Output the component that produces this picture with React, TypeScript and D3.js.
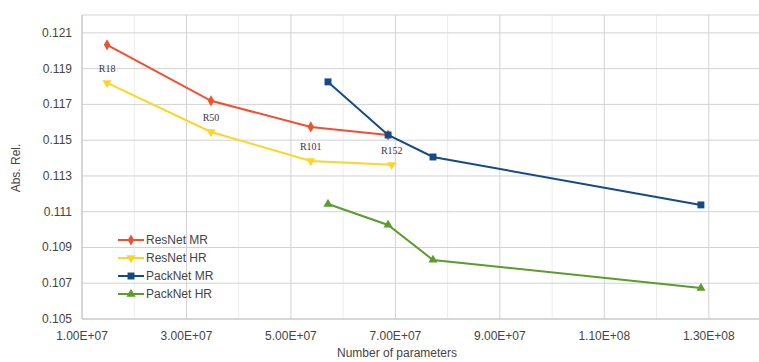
import * as d3 from 'd3';

// valores (parámetros en unidades, Abs. Rel.)
const resnetLabels = ['R18', 'R50', 'R101', 'R152'];
const resnetMrParams = [14.8e6, 34.7e6, 53.8e6, 68.6e6];
const resnetMrAbsRel = [0.12033, 0.1172, 0.11574, 0.11529];
const resnetHrParams = [14.8e6, 34.7e6, 53.8e6, 69.3e6];
const resnetHrAbsRel = [0.1182, 0.11546, 0.11384, 0.11362];
const packnetMrParams = [57.1e6, 68.6e6, 77.2e6, 128.5e6];
const packnetMrAbsRel = [0.11826, 0.11529, 0.11406, 0.11138];
const packnetHrParams = [57.1e6, 68.6e6, 77.2e6, 128.5e6];
const packnetHrAbsRel = [0.11143, 0.11026, 0.1083, 0.10673];

const xTicks = [1e7, 3e7, 5e7, 7e7, 9e7, 1.1e8, 1.3e8];
const xTickLabels = ['1.00E+07', '3.00E+07', '5.00E+07', '7.00E+07', '9.00E+07', '1.10E+08', '1.30E+08'];
const xMinorTicks = [2e7, 4e7, 6e7, 8e7, 1e8, 1.2e8];
const yTicks = [0.105, 0.107, 0.109, 0.111, 0.113, 0.115, 0.117, 0.119, 0.121];

const series = [
  { name: 'ResNet MR', xs: resnetMrParams, ys: resnetMrAbsRel, color: '#f0502e', symbol: d3.symbolDiamond, rot: 0 },
  { name: 'ResNet HR', xs: resnetHrParams, ys: resnetHrAbsRel, color: '#fcd52a', symbol: d3.symbolTriangle, rot: 180 },
  { name: 'PackNet MR', xs: packnetMrParams, ys: packnetMrAbsRel, color: '#144a85', symbol: d3.symbolSquare, rot: 0 },
  { name: 'PackNet HR', xs: packnetHrParams, ys: packnetHrAbsRel, color: '#5a9d2a', symbol: d3.symbolTriangle, rot: 0 },
];

const W = 759;
const H = 362;
const left = 82;
const right = 761;
const top = 15;
const bottom = 319;

export default function App() {
  const x = d3.scaleLinear().domain([1e7, 1.4e8]).range([left, right]);
  const y = d3.scaleLinear().domain([0.105, 0.122]).range([bottom, top]);
  const line = d3.line<[number, number]>().x(d => x(d[0])).y(d => y(d[1]));
  const font = '"Liberation Sans", Arial, sans-serif';

  return (
    <svg width={W} height={H} style={{ position: 'absolute', left: 0, top: 0, background: '#fff' }}>
      {/* rejilla */}
      {xMinorTicks.map(t => (
        <line key={'mx' + t} x1={x(t)} x2={x(t)} y1={top} y2={bottom} stroke="#ececec" strokeWidth={1} />
      ))}
      {xTicks.map(t => (
        <line key={'gx' + t} x1={x(t)} x2={x(t)} y1={top} y2={bottom} stroke="#d2d2d2" strokeWidth={1} />
      ))}
      {yTicks.map(t => (
        <line key={'gy' + t} x1={left} x2={right} y1={y(t)} y2={y(t)} stroke="#d2d2d2" strokeWidth={1} />
      ))}
      <line x1={left} x2={right} y1={top} y2={top} stroke="#d2d2d2" />
      <line x1={left} x2={left} y1={top} y2={bottom} stroke="#c4c4c4" />
      <line x1={left} x2={right} y1={bottom} y2={bottom} stroke="#c4c4c4" />

      {/* etiquetas de ejes */}
      {yTicks.map(t => (
        <text key={'ty' + t} x={72} y={y(t) + 4} textAnchor="end" fontFamily={font} fontSize={12} fill="#444">
          {d3.format('.3f')(t)}
        </text>
      ))}
      {xTicks.map((t, i) => (
        <text key={'tx' + t} x={x(t)} y={340} textAnchor="middle" fontFamily={font} fontSize={12} fill="#444">
          {xTickLabels[i]}
        </text>
      ))}
      <text x={397} y={357} textAnchor="middle" fontFamily={font} fontSize={12} fill="#444">
        Number of parameters
      </text>
      <text transform="translate(20,168) rotate(-90)" textAnchor="middle" fontFamily={font} fontSize={12} fill="#444">
        Abs. Rel.
      </text>

      {/* series */}
      {series.map(s => {
        const pts = s.xs.map((v, i) => [v, s.ys[i]] as [number, number]);
        const sym = d3.symbol(s.symbol, s.symbol === d3.symbolSquare ? 48 : 36)();
        return (
          <g key={s.name}>
            <path d={line(pts) || ''} fill="none" stroke={s.color} strokeWidth={2} />
            {pts.map((p, i) => (
              <path key={i} d={sym || ''} fill={s.color}
                transform={`translate(${x(p[0])},${y(p[1])}) rotate(${s.rot})`} />
            ))}
          </g>
        );
      })}

      {/* etiquetas de modelos */}
      {resnetLabels.map((l, i) => (
        <text key={l} x={x(resnetHrParams[i])} y={y(resnetHrAbsRel[i]) - 11} textAnchor="middle"
          fontFamily='"Liberation Serif", "Times New Roman", serif' fontSize={10} fill="#3c3050">
          {l}
        </text>
      ))}

      {/* leyenda */}
      {series.map((s, i) => {
        const ly = 240 + i * 18;
        const sym = d3.symbol(s.symbol, s.symbol === d3.symbolSquare ? 48 : 36)();
        return (
          <g key={'lg' + s.name}>
            <line x1={118} x2={144} y1={ly} y2={ly} stroke={s.color} strokeWidth={2} />
            <path d={sym || ''} fill={s.color} transform={`translate(131,${ly}) rotate(${s.rot})`} />
            <text x={146} y={ly + 4} fontFamily={font} fontSize={12} fill="#444">{s.name}</text>
          </g>
        );
      })}
    </svg>
  );
}
